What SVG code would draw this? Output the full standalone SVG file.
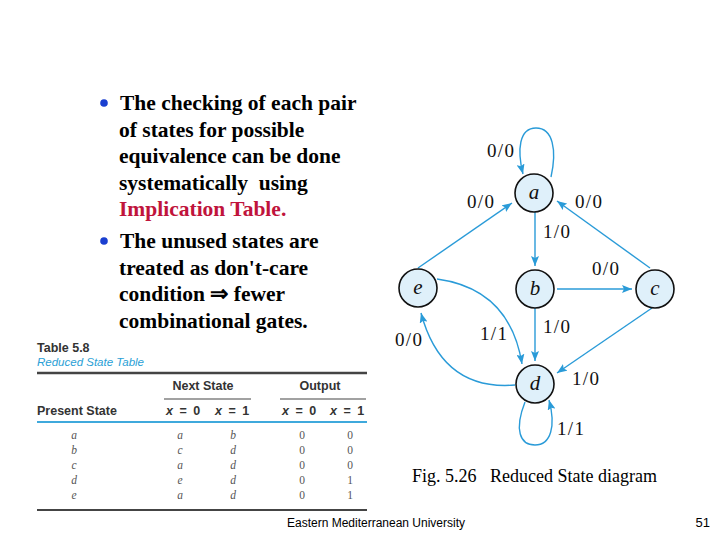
<svg xmlns="http://www.w3.org/2000/svg" width="720" height="540" viewBox="0 0 720 540">
<defs>
<marker id="arr" markerUnits="userSpaceOnUse" markerWidth="11" markerHeight="8" refX="10" refY="4" orient="auto">
<path d="M0,0 L10,4 L0,8 L2,4 z" fill="#2a9bd8"/>
</marker>
<style>
.bt{font-family:"Liberation Serif","Times New Roman",serif;font-weight:bold;font-size:21.5px;fill:#000}
.red{fill:#c0143c}
.edge{fill:none;stroke:#2a9bd8;stroke-width:1.4;marker-end:url(#arr)}
.node{fill:#dff0fa;stroke:#111;stroke-width:1.6}
.nl{font-family:"Liberation Serif","Times New Roman",serif;font-style:italic;font-size:21px;fill:#111;text-anchor:middle}
.el{font-family:"Liberation Serif","Times New Roman",serif;font-size:19px;letter-spacing:1.3px;fill:#111}
.th{font-family:"Liberation Sans",Arial,sans-serif;font-weight:bold;font-size:12.5px;fill:#333}
.tx{word-spacing:3px}
.tc{font-family:"Liberation Serif","Times New Roman",serif;font-size:11.5px;fill:#555;text-anchor:middle}
.ti{font-style:italic}
</style>
</defs>
<rect width="720" height="540" fill="#fff"/>

<g id="bullets">
<circle cx="104" cy="103" r="3.8" fill="#1a3fd0"/>
<circle cx="104" cy="241" r="3.8" fill="#1a3fd0"/>
<text class="bt" x="120" y="110">The checking of each pair</text>
<text class="bt" x="119" y="137">of states for possible</text>
<text class="bt" x="119" y="163">equivalence can be done</text>
<text class="bt" x="119" y="190" xml:space="preserve">systematically  using</text>
<text class="bt red" x="119" y="216">Implication Table.</text>
<text class="bt" x="120" y="248">The unused states are</text>
<text class="bt" x="119" y="275">treated as don't-care</text>
<text class="bt" x="119" y="301">condition ⇒ fewer</text>
<text class="bt" x="119" y="328">combinational gates.</text>
</g>

<g id="table">
<text class="th" x="37" y="352">Table 5.8</text>
<text x="37" y="366" font-family="'Liberation Sans',Arial,sans-serif" font-style="italic" font-size="11.5" fill="#2a9fd6">Reduced State Table</text>
<line x1="37" y1="373" x2="367" y2="373" stroke="#444" stroke-width="2.4"/>
<text class="th" x="203" y="390" text-anchor="middle">Next State</text>
<text class="th" x="320" y="390" text-anchor="middle">Output</text>
<line x1="164" y1="399" x2="251" y2="399" stroke="#444" stroke-width="1.2"/>
<line x1="280" y1="399" x2="366" y2="399" stroke="#444" stroke-width="1.2"/>
<text class="th" x="37" y="415">Present State</text>
<text class="th tx" x="166" y="415"><tspan font-style="italic">x</tspan> = 0</text>
<text class="th tx" x="215" y="415"><tspan font-style="italic">x</tspan> = 1</text>
<text class="th tx" x="282" y="415"><tspan font-style="italic">x</tspan> = 0</text>
<text class="th tx" x="330" y="415"><tspan font-style="italic">x</tspan> = 1</text>
<line x1="37" y1="422" x2="367" y2="422" stroke="#3fa9dc" stroke-width="2"/>
<g class="tc">
<text class="ti" x="74" y="439">a</text><text class="ti" x="180" y="439">a</text><text class="ti" x="233" y="439">b</text><text x="302" y="439">0</text><text x="350" y="439">0</text>
<text class="ti" x="74" y="454">b</text><text class="ti" x="180" y="454">c</text><text class="ti" x="233" y="454">d</text><text x="302" y="454">0</text><text x="350" y="454">0</text>
<text class="ti" x="74" y="469">c</text><text class="ti" x="180" y="469">a</text><text class="ti" x="233" y="469">d</text><text x="302" y="469">0</text><text x="350" y="469">0</text>
<text class="ti" x="74" y="484">d</text><text class="ti" x="180" y="484">e</text><text class="ti" x="233" y="484">d</text><text x="302" y="484">0</text><text x="350" y="484">1</text>
<text class="ti" x="74" y="499">e</text><text class="ti" x="180" y="499">a</text><text class="ti" x="233" y="499">d</text><text x="302" y="499">0</text><text x="350" y="499">1</text>
</g>
<line x1="37" y1="510" x2="367" y2="510" stroke="#444" stroke-width="2"/>
</g>

<g id="connectors">
<path class="edge" d="M551,177 C557,150 553,128 536,128 C519,128 517,150 523,174"/>
<path class="edge" d="M418,268 L512,203"/>
<path class="edge" d="M650,268 L557,201"/>
<path class="edge" d="M535,212 L535,266"/>
<path class="edge" d="M557,289 L632,289"/>
<path class="edge" d="M535,308 L535,361"/>
<path class="edge" d="M652,308 L557,373"/>
<path class="edge" d="M437,279 Q510,289 522,364"/>
<path class="edge" d="M515,385 Q442,391 421,313"/>
<path class="edge" d="M525,402 C514,430 520,445 535,445 C551,445 556,426 549,400"/>
<text class="el" x="487" y="157">0/0</text>
<text class="el" x="467" y="208">0/0</text>
<text class="el" x="575" y="208">0/0</text>
<text class="el" x="543" y="238">1/0</text>
<text class="el" x="592" y="275">0/0</text>
<text class="el" x="543" y="333">1/0</text>
<text class="el" x="480" y="340">1/1</text>
<text class="el" x="395" y="346">0/0</text>
<text class="el" x="572" y="385">1/0</text>
<text class="el" x="557" y="435">1/1</text>
</g>

<g id="node-a"><circle class="node" cx="534" cy="193" r="19"/><text class="nl" x="534" y="199">a</text></g>
<g id="node-b"><circle class="node" cx="535" cy="289" r="19"/><text class="nl" x="535" y="295">b</text></g>
<g id="node-c"><circle class="node" cx="655" cy="289" r="19"/><text class="nl" x="655" y="295">c</text></g>
<g id="node-e"><circle class="node" cx="418" cy="288" r="19"/><text class="nl" x="418" y="294">e</text></g>
<g id="node-d"><circle class="node" cx="535" cy="384" r="19"/><text class="nl" x="535" y="390">d</text></g>

<text x="412" y="482" font-family="'Liberation Serif','Times New Roman',serif" font-size="18" fill="#000" xml:space="preserve">Fig. 5.26   Reduced State diagram</text>
<text x="376" y="527" text-anchor="middle" font-family="'Liberation Sans',Arial,sans-serif" font-size="12" fill="#000">Eastern Mediterranean University</text>
<text x="710" y="527" text-anchor="end" font-family="'Liberation Sans',Arial,sans-serif" font-size="13" fill="#000">51</text>
</svg>
